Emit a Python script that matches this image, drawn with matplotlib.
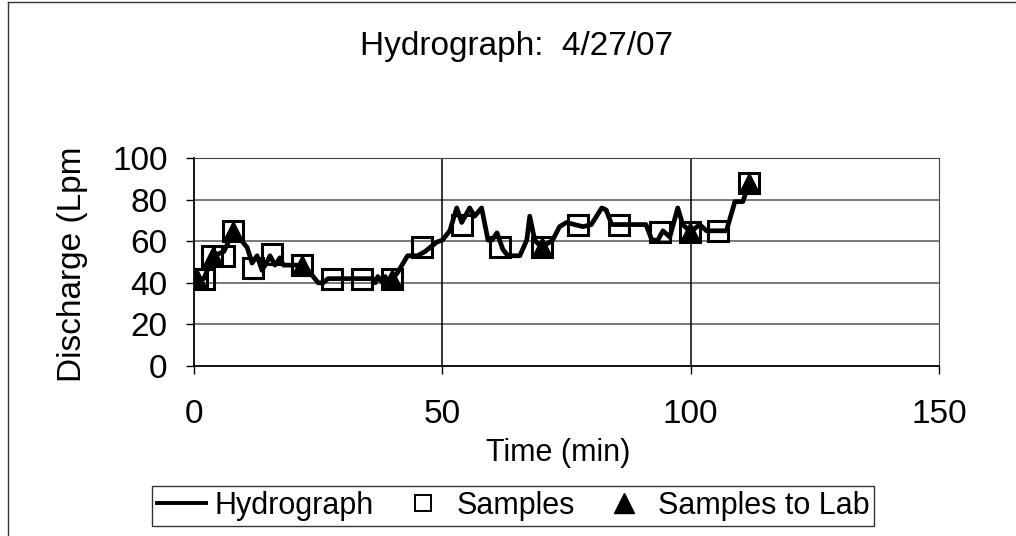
import matplotlib
matplotlib.use("Agg")
import matplotlib.pyplot as plt
from matplotlib.lines import Line2D

plt.rcParams["font.family"] = ["Liberation Sans", "DejaVu Sans"]

# hydrograph trace (time in min, discharge in Lpm)
hydro_t = [0, 1, 2, 3, 4, 6, 7, 8, 9, 10.7, 11.7, 12.7, 13.7, 14.7, 15.3, 16.3,
           17.3, 18, 22, 23, 25, 26, 27, 36, 36.5, 37, 38, 38.5, 39, 40, 41, 43,
           45, 46.5, 48.9, 50, 51.5, 52.9, 53.9, 55.5, 56.5, 57.9, 59.2, 60,
           61, 62.2, 63.2, 65.6, 67, 67.6, 68.6, 70, 72.2, 73.6, 75, 78.3, 80,
           82.1, 83, 84.1, 91, 92.2, 93.4, 94.4, 95.8, 97.4, 98.4, 100, 101.8,
           103.2, 107.2, 108.9, 110.5, 111.5, 112]
hydro_q = [40, 42, 42, 48, 53, 55, 60, 65, 62, 57, 49.5, 53, 46, 50, 53, 48.5,
           52, 48.5, 48.5, 46, 40, 40, 42, 42, 40, 43, 40, 43, 40, 42, 45, 53,
           53, 55, 59.6, 60.5, 65, 76, 69, 76, 72, 76, 60.5, 60.5,
           64, 56, 53, 53, 60.5, 72, 60.5, 57, 60.5, 67, 69, 67, 68,
           76, 75, 68, 68, 60.5, 60.5, 65, 62, 76, 68, 64.5, 68,
           65, 65, 79, 79, 86, 88]

# collected samples
sample_t = [0.6, 2, 3.6, 6, 7.8, 11.9, 15.7, 21.7, 27.8, 33.8, 39.9, 45.9,
            53.9, 61.6, 70, 77.3, 85.5, 93.8, 99.8, 105.6, 111.7]
sample_q = [42, 42, 53, 53, 65, 47, 54, 48.5, 42, 42, 42, 57,
            68, 57, 57, 68, 68, 64.5, 64.5, 65, 88]

# samples sent to lab
lab_t = [0.6, 3.8, 7.8, 21.7, 39.9, 70, 99.8, 111.7]
lab_q = [42, 53, 65, 48.5, 42, 57, 64.5, 88]

fig = plt.figure(figsize=(10.16, 5.36), dpi=100)
ax = fig.add_axes([194 / 1016, 1 - 366 / 536, (939 - 194) / 1016, (366 - 158) / 536])

ax.plot(hydro_t, hydro_q, color="black", linewidth=3.4, zorder=3)
ax.plot(sample_t, sample_q, linestyle="none", marker="s", markersize=14.5,
        markerfacecolor="none", markeredgecolor="black", markeredgewidth=2.2, zorder=4)
ax.plot(lab_t, lab_q, linestyle="none", marker="^", markersize=14,
        color="black", zorder=5)

ax.set_xlim(0, 150)
ax.set_ylim(0, 100)
ax.set_xticks([0, 50, 100, 150])
ax.set_yticks([0, 20, 40, 60, 80, 100])
ax.tick_params(labelsize=24, length=6, width=1, direction="out")
ax.tick_params(axis="y", pad=13)
ax.tick_params(axis="x", pad=18)

for v in [20, 40, 60, 80]:
    ax.axhline(v, color="#555555", linewidth=1.1, zorder=1)
for v in [50, 100]:
    ax.axvline(v, color="black", linewidth=1.1, zorder=1)

ax.spines["left"].set_linewidth(1.3)
ax.spines["bottom"].set_linewidth(1.3)
ax.spines["top"].set_linestyle((0, (1, 1)))
ax.spines["top"].set_color("#444444")
ax.spines["right"].set_linestyle((0, (1, 1)))
ax.spines["right"].set_color("#444444")

fig.text(558 / 1016, 1 - 453 / 536, "Time (min)", fontsize=22,
         ha="center", va="center")
fig.text(516 / 1016, 1 - 46 / 536, "Hydrograph:  4/27/07", fontsize=24,
         ha="center", va="center")
fig.text(73 / 1016, 1 - 382 / 536, "Discharge (Lpm", fontsize=24,
         rotation=90, ha="center", va="bottom")

handles = [
    Line2D([], [], color="black", linewidth=2.8),
    Line2D([], [], linestyle="none", marker="s", markersize=12,
           markerfacecolor="none", markeredgecolor="black", markeredgewidth=1.4),
    Line2D([], [], linestyle="none", marker="^", markersize=15, color="black"),
]
leg = fig.legend(handles, ["Hydrograph", "Samples", "Samples to Lab"],
                 loc="center", bbox_to_anchor=(513 / 1016, 1 - 506 / 536),
                 ncol=3, fontsize=22, frameon=True, fancybox=False,
                 handlelength=1.6, handletextpad=0.3, columnspacing=0.8,
                 borderpad=0.15, borderaxespad=0, edgecolor="black")
leg.get_frame().set_linewidth(1.0)

# chart area border (left and top)
fig.add_artist(Line2D([8 / 1016, 8 / 1016], [0, 1 - 2 / 536], color="#333333",
                      linewidth=1, transform=fig.transFigure))
fig.add_artist(Line2D([8 / 1016, 1], [1 - 2 / 536, 1 - 2 / 536], color="#333333",
                      linewidth=1, transform=fig.transFigure))

fig.savefig("out.png", dpi=100)
